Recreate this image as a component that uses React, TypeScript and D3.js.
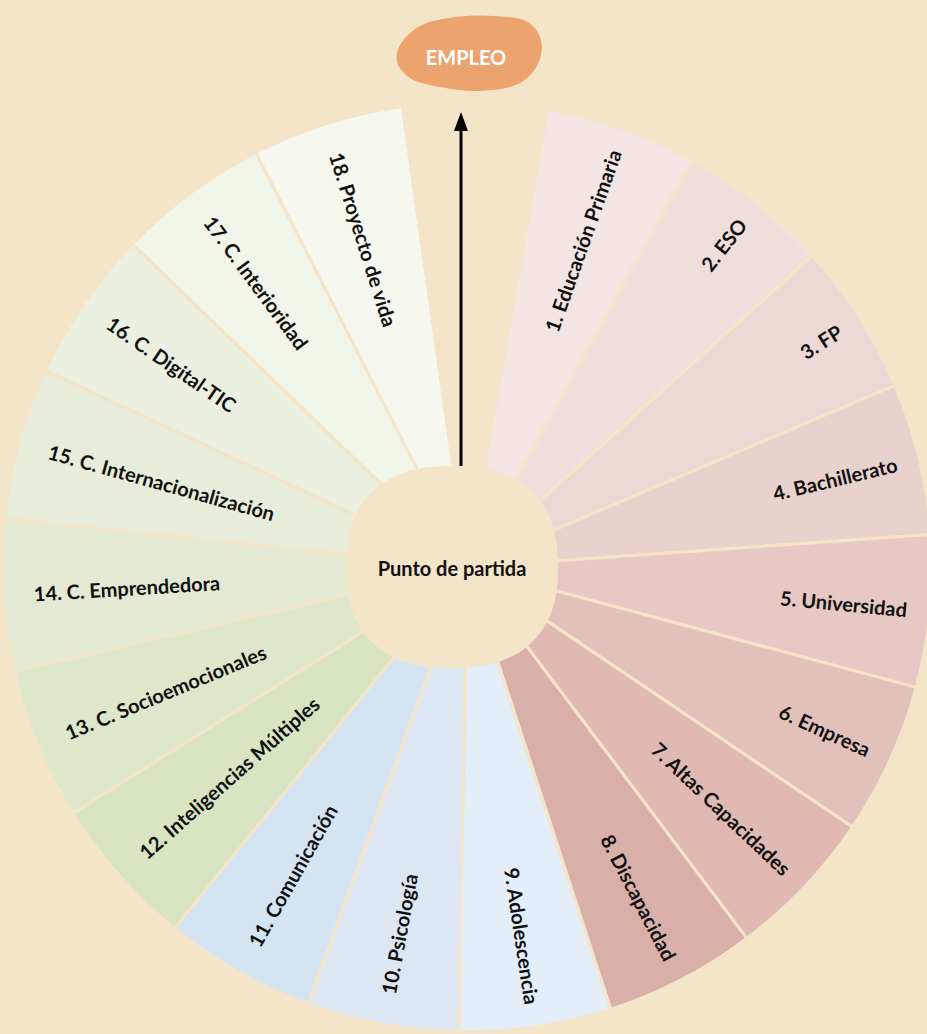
import React from "react";
import * as d3 from "d3";

// ---- Data ----
const categories: string[] = [
  "1. Educación Primaria",
  "2. ESO",
  "3. FP",
  "4. Bachillerato",
  "5. Universidad",
  "6. Empresa",
  "7. Altas Capacidades",
  "8. Discapacidad",
  "9. Adolescencia",
  "10. Psicología",
  "11. Comunicación",
  "12. Inteligencias Múltiples",
  "13. C. Socioemocionales",
  "14. C. Emprendedora",
  "15. C. Internacionalización",
  "16. C. Digital-TIC",
  "17. C. Interioridad",
  "18. Proyecto de vida",
];
const weights: number[] = [1, 1, 1, 1, 1, 1, 1, 1, 1, 1, 1, 1, 1, 1, 1, 1, 1, 1];
const centerLabel = "Punto de partida";
const goalLabel = "EMPLEO";

// ---- Styles ----
const palette: string[] = [
  "#f2e5e3", "#efdfdc", "#ecd8d5", "#e9d1cd", "#e6c9c4", "#e3c1bb",
  "#e0b9b3", "#d9afa9", "#e4eef8", "#dde7f4", "#d4e4f3", "#d8e4c2",
  "#dfe7cb", "#e4e9d3", "#e8ecda", "#ecf0e1", "#f1f4e8", "#f6f7ee",
];
const BG = "#f5e5c8";
const W = 927, H = 1034;
const cx = 467, cy = 567, R = 465;
const deg = Math.PI / 180;

export default function App() {
  const pie = d3
    .pie<number>()
    .sort(null)
    .value((d) => d)
    .startAngle(10 * deg)
    .endAngle(352 * deg);
  const arcs = pie(weights);
  const arcGen = d3.arc<d3.PieArcDatum<number>>().innerRadius(0).outerRadius(R);

  // central blob (slightly squarish circle)
  const blobPts: [number, number][] = d3.range(0, 360, 10).map((a) => {
    const t = a * deg;
    const c = Math.cos(t), s = Math.sin(t);
    const n = 2.4;
    const rx = 106, ry = 101;
    const x = rx * Math.sign(c) * Math.pow(Math.abs(c), 2 / n);
    const y = ry * Math.sign(s) * Math.pow(Math.abs(s), 2 / n);
    return [452 + x, 567 + y];
  });
  const blobPath = d3.line().curve(d3.curveCatmullRomClosed)(blobPts) || "";

  // EMPLEO blob
  const empPts: [number, number][] = [
    [400, 45], [420, 26], [455, 17], [495, 16], [528, 22], [541, 40],
    [538, 64], [520, 83], [480, 91], [440, 87], [410, 78], [397, 62],
  ];
  const empPath = d3.line().curve(d3.curveCatmullRomClosed)(empPts) || "";

  return (
    <svg
      width={W}
      height={H}
      style={{ position: "absolute", left: 0, top: 0, display: "block" }}
      fontFamily="Lato, 'Open Sans', sans-serif"
    >
      <rect x={0} y={0} width={W} height={H} fill={BG} />
      <g transform={`translate(${cx},${cy})`}>
        {arcs.map((a, i) => (
          <path
            key={i}
            d={arcGen(a) || ""}
            fill={palette[i]}
            stroke={BG}
            strokeWidth={3}
            strokeLinejoin="round"
          />
        ))}
        {arcs.map((a, i) => {
          const mid = (a.startAngle + a.endAngle) / 2;
          const md = mid / deg;
          const right = md < 180;
          const r = right ? 442 : 434;
          const x = r * Math.sin(mid);
          const y = -r * Math.cos(mid);
          const rot = right ? md - 90 : md + 90;
          return (
            <text
              key={i}
              transform={`translate(${x},${y}) rotate(${rot})`}
              textAnchor={right ? "end" : "start"}
              dominantBaseline="central"
              fontSize={20}
              fontWeight={700}
              fill="#111"
            >
              {categories[i]}
            </text>
          );
        })}
      </g>
      <path d={blobPath} fill={BG} />
      <text
        x={452}
        y={568}
        textAnchor="middle"
        dominantBaseline="central"
        fontSize={20}
        fontWeight={700}
        fill="#111"
      >
        {centerLabel}
      </text>
      <line x1={461} y1={466} x2={461} y2={128} stroke="#000" strokeWidth={3} />
      <path d="M461,112 L468,131 L454,131 Z" fill="#000" />
      <path d={empPath} fill="#eda36e" />
      <text
        x={466}
        y={57}
        textAnchor="middle"
        dominantBaseline="central"
        fontSize={20}
        fontWeight={700}
        fill="#fff"
      >
        {goalLabel}
      </text>
    </svg>
  );
}
